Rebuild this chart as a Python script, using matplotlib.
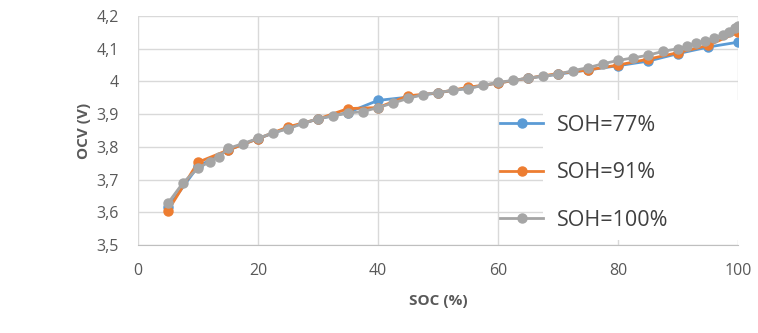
import matplotlib
matplotlib.use("Agg")
import matplotlib.pyplot as plt
from matplotlib.patches import Rectangle

soc_100 = [5, 7.5, 10, 12, 13.5, 15, 17.5, 20, 22.5, 25, 27.5, 30, 32.5, 35, 37.5, 40,
           42.5, 45, 47.5, 50, 52.5, 55, 57.5, 60, 62.5, 65, 67.5, 70, 72.5, 75, 77.5,
           80, 82.5, 85, 87.5, 90, 91.5, 93, 94.5, 96, 97.5, 98.5, 99.5, 100]
ocv_100 = [3.628, 3.69, 3.735, 3.755, 3.77, 3.795, 3.81, 3.826, 3.843, 3.855, 3.872, 3.886,
           3.895, 3.903, 3.908, 3.92, 3.934, 3.948, 3.96, 3.966, 3.973, 3.978, 3.988,
           3.997, 4.003, 4.01, 4.016, 4.022, 4.033, 4.042, 4.054, 4.064, 4.072, 4.08,
           4.092, 4.1, 4.108, 4.116, 4.124, 4.132, 4.142, 4.152, 4.162, 4.168]

soc_91 = [5, 10, 15, 20, 25, 30, 35, 40, 45, 50, 55, 60, 65, 70, 75, 80, 85, 90, 95, 100]
ocv_91 = [3.605, 3.753, 3.79, 3.825, 3.861, 3.885, 3.917, 3.92, 3.956, 3.965, 3.982, 3.995,
          4.01, 4.024, 4.035, 4.05, 4.068, 4.088, 4.11, 4.15]

soc_77 = [5, 10, 15, 20, 25, 30, 35, 40, 45, 50, 55, 60, 65, 70, 75, 80, 85, 90, 95, 100]
ocv_77 = [3.615, 3.74, 3.79, 3.825, 3.858, 3.885, 3.905, 3.942, 3.952, 3.965, 3.98, 3.995,
          4.01, 4.022, 4.035, 4.048, 4.062, 4.085, 4.105, 4.12]

labels = ["SOH=77%", "SOH=91%", "SOH=100%"]
colors = ["#5B9BD5", "#ED7D31", "#A5A5A5"]

xticks = [0, 20, 40, 60, 80, 100]
yticks = [3.5, 3.6, 3.7, 3.8, 3.9, 4.0, 4.1, 4.2]
ytick_labels = ["3,5", "3,6", "3,7", "3,8", "3,9", "4", "4,1", "4,2"]

plt.rcParams['font.family'] = ['Open Sans', 'DejaVu Sans']
txt = "#595959"

fig = plt.figure(figsize=(7.58, 3.33), dpi=100)
ax = fig.add_axes([138/758, 1-245/333, 600/758, 229/333])

for s, v, lab, c in zip([soc_77, soc_91, soc_100], [ocv_77, ocv_91, ocv_100], labels, colors):
    ax.plot(s, v, color=c, lw=2, marker='o', markersize=6.5, label=lab, zorder=3)

ax.set_xlim(0, 100)
ax.set_ylim(3.5, 4.2)
ax.set_xticks(xticks)
ax.set_xticklabels([str(t) for t in xticks])
ax.set_yticks(yticks)
ax.set_yticklabels(ytick_labels)
ax.tick_params(length=0, colors=txt, labelsize=11.5)
ax.tick_params(axis='x', pad=13)
ax.tick_params(axis='y', pad=14)
ax.set_axisbelow(True)
ax.grid(True, color="#D9D9D9", lw=1)
for sp in ["top", "right", "left"]:
    ax.spines[sp].set_visible(False)
ax.spines["bottom"].set_color("#BFBFBF")

ax.set_xlabel("SOC (%)", color=txt, fontsize=11, fontweight='bold', labelpad=11)
ax.set_ylabel("OCV (V)", color=txt, fontsize=11, fontweight='bold', labelpad=4)

# white area behind the legend text
ax.add_patch(Rectangle(((543-138)/600, (245-240)/229), 1-(543-138)/600, (240-100)/229,
                       transform=ax.transAxes, facecolor='white', edgecolor='none', zorder=1))

leg = ax.legend(loc='upper left', bbox_to_anchor=((500-138)/600, (245-115)/229),
                frameon=False, fontsize=15.5, handlelength=2.0, labelspacing=1.22,
                handletextpad=0.63, borderaxespad=0, borderpad=0)
for t in leg.get_texts():
    t.set_color("#404040")

fig.savefig("out.png", dpi=100)
